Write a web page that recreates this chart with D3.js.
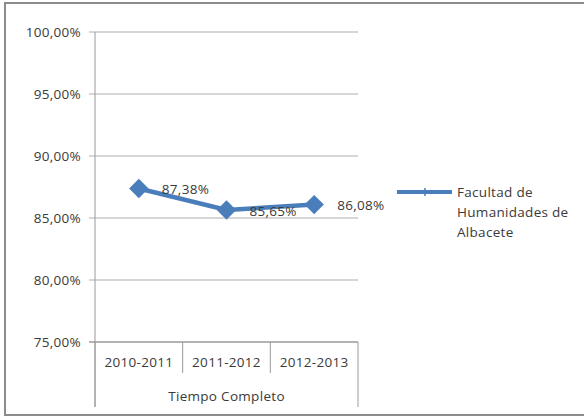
<!DOCTYPE html>
<html>
<head>
<meta charset="utf-8">
<script src="https://cdn.jsdelivr.net/npm/d3@7"></script>
<style>
  body { margin: 0; background: #fff; }
  text { font-family: "Open Sans", "Noto Sans", sans-serif; fill: #3a3a3a; font-size: 13.5px; letter-spacing: 0.3px; }
</style>
</head>
<body>
<script>
const categories = ["2010-2011", "2011-2012", "2012-2013"],
      values = [87.38, 85.65, 86.08],
      labels = ["87,38%", "85,65%", "86,08%"],
      yTicks = [75, 80, 85, 90, 95, 100],
      groupLabel = "Tiempo Completo",
      seriesName = ["Facultad de", "Humanidades de", "Albacete"];

const W = 584, H = 418,
      margin = {top: 32, left: 95},
      plotW = 263, plotH = 310,
      blue = "#4a7ebb";

const svg = d3.select("body").append("svg")
  .attr("width", W)
  .attr("height", H);

// outer frame
svg.append("rect")
  .attr("x", 5).attr("y", 3)
  .attr("width", 620).attr("height", 412)
  .attr("fill", "none")
  .attr("stroke", "#8c8c8c")
  .attr("stroke-width", 2);

const x = d3.scaleBand().domain(categories).range([margin.left, margin.left + plotW]);
const y = d3.scaleLinear().domain([75, 100]).range([margin.top + plotH, margin.top]);

// gridlines
svg.append("g").selectAll("line")
  .data(yTicks)
  .enter().append("line")
  .attr("x1", margin.left - 6)
  .attr("x2", margin.left + plotW)
  .attr("y1", d => y(d))
  .attr("y2", d => y(d))
  .attr("stroke", d => d == 75 ? "#9a9a9a" : "#c8c8c8")
  .attr("stroke-width", 1.5);

// y axis line
svg.append("line")
  .attr("x1", margin.left).attr("x2", margin.left)
  .attr("y1", margin.top).attr("y2", 407)
  .attr("stroke", "#9a9a9a");

// y tick labels
svg.append("g").selectAll("text")
  .data(yTicks)
  .enter().append("text")
  .attr("x", margin.left - 14)
  .attr("y", d => y(d))
  .attr("dy", "0.35em")
  .attr("text-anchor", "end")
  .text(d => d3.format(".2f")(d).replace(".", ",") + "%");

// category separators
const bounds = categories.map(c => x(c)).concat([margin.left + plotW]);
svg.append("g").selectAll("line")
  .data(bounds)
  .enter().append("line")
  .attr("x1", d => d).attr("x2", d => d)
  .attr("y1", margin.top + plotH)
  .attr("y2", (d, i) => (i == 0 || i == bounds.length - 1) ? 407 : 373)
  .attr("stroke", "#9a9a9a");

// category labels
svg.append("g").selectAll("text")
  .data(categories)
  .enter().append("text")
  .attr("x", d => x(d) + x.bandwidth() / 2)
  .attr("y", 362)
  .attr("dy", "0.35em")
  .attr("text-anchor", "middle")
  .text(d => d);

svg.append("text")
  .attr("x", margin.left + plotW / 2)
  .attr("y", 396)
  .attr("dy", "0.35em")
  .attr("text-anchor", "middle")
  .text(groupLabel);

// series line
const line = d3.line()
  .x((d, i) => x(categories[i]) + x.bandwidth() / 2)
  .y(d => y(d));

svg.append("path")
  .datum(values)
  .attr("d", line)
  .attr("fill", "none")
  .attr("stroke", blue)
  .attr("stroke-width", 4.5);

svg.append("g").selectAll("path")
  .data(values)
  .enter().append("path")
  .attr("transform", (d, i) => "translate(" + (x(categories[i]) + x.bandwidth() / 2) + "," + y(d) + ")")
  .attr("d", d3.symbol().type(d3.symbolDiamond2).size(240))
  .attr("fill", blue);

// data labels
svg.append("g").selectAll("text")
  .data(values)
  .enter().append("text")
  .attr("x", (d, i) => x(categories[i]) + x.bandwidth() / 2 + 23)
  .attr("y", d => y(d) + 1)
  .attr("dy", "0.35em")
  .text((d, i) => labels[i]);

// legend
svg.append("line")
  .attr("x1", 397).attr("x2", 452)
  .attr("y1", 192).attr("y2", 192)
  .attr("stroke", blue)
  .attr("stroke-width", 4);
svg.append("line")
  .attr("x1", 425).attr("x2", 425)
  .attr("y1", 188).attr("y2", 196)
  .attr("stroke", blue)
  .attr("stroke-width", 1.5);

svg.append("g").selectAll("text")
  .data(seriesName)
  .enter().append("text")
  .attr("x", 457)
  .attr("y", (d, i) => 192 + i * 20)
  .attr("dy", "0.35em")
  .text(d => d);
</script>
</body>
</html>
